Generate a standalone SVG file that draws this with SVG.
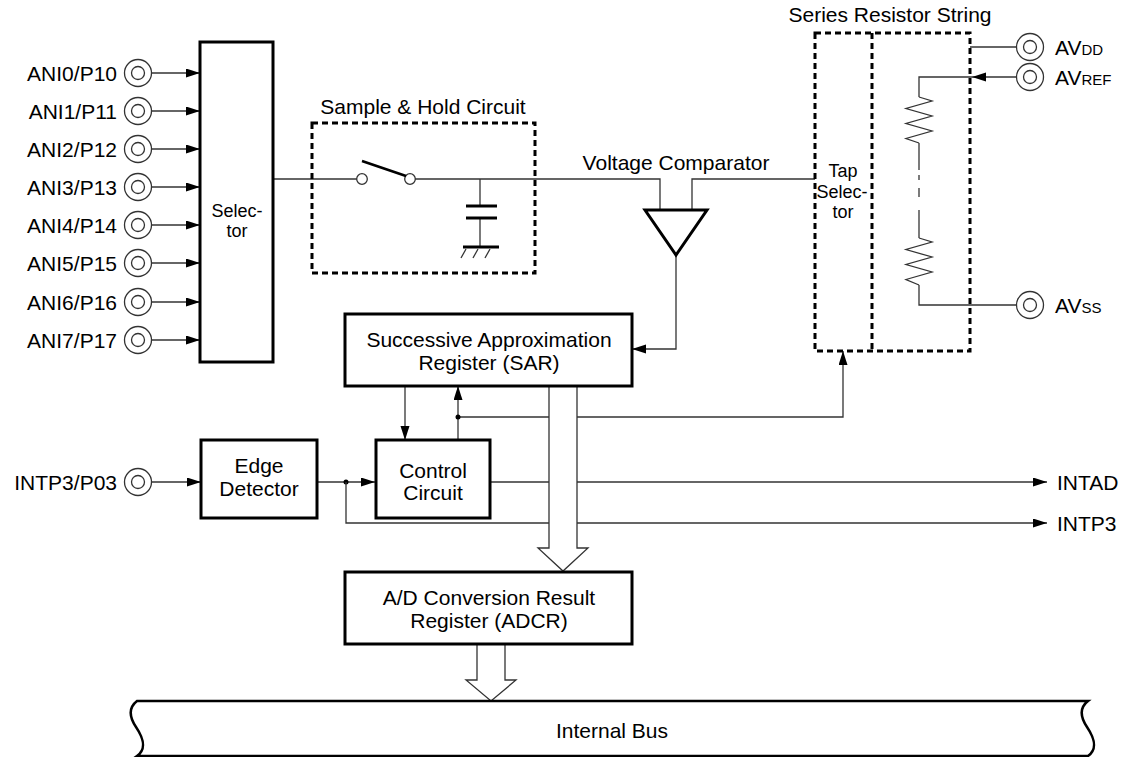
<svg xmlns="http://www.w3.org/2000/svg" width="1125" height="757" viewBox="0 0 1125 757">
<defs>
<style>
text{font-family:"Liberation Sans",Arial,sans-serif;fill:#000}
.t{font-size:21px}
.m{text-anchor:middle}
.e{text-anchor:end}
.s{font-size:18px}
.sub{font-size:15px}
.box{fill:#fff;stroke:#000;stroke-width:3}
.dash{fill:none;stroke:#000;stroke-width:3;stroke-dasharray:6 4}
.w{fill:none;stroke:#333;stroke-width:1.3}
.bw{fill:#fff;stroke:#333;stroke-width:1.3}
.pin{fill:#fff;stroke:#333;stroke-width:1.3}
.thick{fill:none;stroke:#000;stroke-width:3}
</style>
<marker id="ah" markerUnits="userSpaceOnUse" markerWidth="14" markerHeight="10" refX="14" refY="4.5" orient="auto">
<path d="M0,0 L14,4.5 L0,9 z" fill="#000"/>
</marker>
<g id="pinshape">
<circle r="13.5" class="pin"/>
<circle r="6.5" class="pin"/>
</g>
</defs>

<g id="connectors">
<!-- ANI inputs -->
<line class="w" x1="151.5" y1="73" x2="200" y2="73" marker-end="url(#ah)"/>
<line class="w" x1="151.5" y1="111" x2="200" y2="111" marker-end="url(#ah)"/>
<line class="w" x1="151.5" y1="149" x2="200" y2="149" marker-end="url(#ah)"/>
<line class="w" x1="151.5" y1="187" x2="200" y2="187" marker-end="url(#ah)"/>
<line class="w" x1="151.5" y1="225" x2="200" y2="225" marker-end="url(#ah)"/>
<line class="w" x1="151.5" y1="263" x2="200" y2="263" marker-end="url(#ah)"/>
<line class="w" x1="151.5" y1="302" x2="200" y2="302" marker-end="url(#ah)"/>
<line class="w" x1="151.5" y1="340" x2="200" y2="340" marker-end="url(#ah)"/>
<!-- selector to switch -->
<line class="w" x1="273" y1="179" x2="357" y2="179"/>
<!-- switch to comparator -->
<polyline class="w" points="415,179 660,179 660,210"/>
<!-- capacitor -->
<line class="w" x1="480" y1="179" x2="480" y2="206"/>
<line class="w" x1="480" y1="218" x2="480" y2="247"/>
<!-- comparator ref input from tap selector -->
<polyline class="w" points="692,210 692,179 815,179"/>
<!-- comparator output to SAR -->
<polyline class="w" points="676,255 676,349 632,349" marker-end="url(#ah)"/>
<!-- SAR to control -->
<line class="w" x1="405" y1="386" x2="405" y2="440" marker-end="url(#ah)"/>
<!-- control to SAR -->
<line class="w" x1="458" y1="440" x2="458" y2="386" marker-end="url(#ah)"/>
<!-- control to tap selector -->
<polyline class="w" points="458,417 843,417 843,351" marker-end="url(#ah)"/>
<circle cx="458" cy="417" r="2.5" fill="#000"/>
<!-- INTP3 pin to edge detector -->
<line class="w" x1="151.5" y1="482" x2="201" y2="482" marker-end="url(#ah)"/>
<!-- edge detector to control -->
<line class="w" x1="317" y1="482" x2="375" y2="482" marker-end="url(#ah)"/>
<circle cx="346" cy="482" r="2.5" fill="#000"/>
<!-- INTP3 output -->
<polyline class="w" points="346,482 346,523 1047,523" marker-end="url(#ah)"/>
<!-- INTAD output -->
<line class="w" x1="490" y1="482" x2="1047" y2="482" marker-end="url(#ah)"/>
<!-- AVDD -->
<line class="w" x1="970" y1="47" x2="1016.5" y2="47"/>
<!-- AVREF -->
<line class="w" x1="1016.5" y1="77" x2="972" y2="77" marker-end="url(#ah)"/>
<polyline class="w" points="972,77 919,77 919,97"/>
<!-- resistor string -->
<polyline class="w" points="919,97 932,101 906,108.5 932,116 906,123.5 932,131 906,138.5 919,143"/>
<line class="w" x1="919" y1="143" x2="919" y2="170"/>
<line class="w" x1="919" y1="175" x2="919" y2="180"/>
<line class="w" x1="919" y1="188" x2="919" y2="197"/>
<line class="w" x1="919" y1="210" x2="919" y2="238"/>
<polyline class="w" points="919,238 932,242 906,249.5 932,257 906,264.5 932,272 906,279.5 919,285"/>
<polyline class="w" points="919,285 919,305 1016.5,305"/>
<!-- SAR to ADCR data arrow -->
<polygon class="bw" points="549,386 549,548 538,548 563,571 588,548 577,548 577,386"/>
<!-- ADCR to bus data arrow -->
<polygon class="bw" points="477,644 477,680 466,680 491,701 516,680 505,680 505,644"/>
</g>

<g id="selector">
<rect class="box" x="200" y="42" width="73" height="320"/>
<text class="s m" x="237" y="217">Selec-</text>
<text class="s m" x="237" y="237">tor</text>
</g>

<g id="pins-ani">
<use href="#pinshape" x="138" y="73"/>
<use href="#pinshape" x="138" y="111"/>
<use href="#pinshape" x="138" y="149"/>
<use href="#pinshape" x="138" y="187"/>
<use href="#pinshape" x="138" y="225"/>
<use href="#pinshape" x="138" y="263"/>
<use href="#pinshape" x="138" y="302"/>
<use href="#pinshape" x="138" y="340"/>
<text class="t e" x="117" y="80.5">ANI0/P10</text>
<text class="t e" x="117" y="118.5">ANI1/P11</text>
<text class="t e" x="117" y="156.5">ANI2/P12</text>
<text class="t e" x="117" y="194.5">ANI3/P13</text>
<text class="t e" x="117" y="232.5">ANI4/P14</text>
<text class="t e" x="117" y="270.5">ANI5/P15</text>
<text class="t e" x="117" y="309.5">ANI6/P16</text>
<text class="t e" x="117" y="347.5">ANI7/P17</text>
</g>

<g id="sample-hold">
<text class="t m" x="423" y="114">Sample &amp; Hold Circuit</text>
<rect class="dash" x="312" y="123" width="223" height="150"/>
<circle cx="362" cy="179" r="5.3" class="pin"/>
<circle cx="410" cy="179" r="5.3" class="pin"/>
<line x1="362" y1="161" x2="406" y2="176" stroke="#000" stroke-width="2.6"/>
<line x1="466" y1="206" x2="497" y2="206" stroke="#000" stroke-width="3"/>
<line x1="466" y1="218" x2="497" y2="218" stroke="#000" stroke-width="3"/>
<line x1="463" y1="247" x2="499" y2="247" stroke="#000" stroke-width="3"/>
<line class="w" x1="461" y1="258" x2="466" y2="249"/>
<line class="w" x1="473" y1="258" x2="478" y2="249"/>
<line class="w" x1="485" y1="258" x2="490" y2="249"/>
</g>

<g id="comparator">
<text class="t m" x="676" y="170">Voltage Comparator</text>
<polygon points="645,210 707,210 676,255" fill="#fff" stroke="#000" stroke-width="3" stroke-linejoin="miter"/>
</g>

<g id="resistor-string">
<text class="t m" x="890" y="22">Series Resistor String</text>
<rect class="dash" x="815" y="33" width="155" height="318"/>
<line class="dash" x1="872" y1="33" x2="872" y2="351"/>
<text class="s m" x="843" y="177">Tap</text>
<text class="s m" x="842" y="198">Selec-</text>
<text class="s m" x="843" y="218">tor</text>
</g>

<g id="pins-av">
<use href="#pinshape" x="1030" y="47"/>
<use href="#pinshape" x="1030" y="77"/>
<use href="#pinshape" x="1030" y="305"/>
<text class="t" x="1055" y="54.5">AV<tspan class="sub">DD</tspan></text>
<text class="t" x="1055" y="84.5">AV<tspan class="sub">REF</tspan></text>
<text class="t" x="1055" y="312.5">AV<tspan class="sub">SS</tspan></text>
</g>

<g id="sar">
<rect class="box" x="345" y="314" width="287" height="72"/>
<text class="t m" x="489" y="347">Successive Approximation</text>
<text class="t m" x="489" y="370">Register (SAR)</text>
</g>

<g id="edge-detector">
<rect class="box" x="201" y="440" width="116" height="78"/>
<text class="t m" x="259" y="473">Edge</text>
<text class="t m" x="259" y="496">Detector</text>
</g>

<g id="control-circuit">
<rect class="box" x="376" y="440" width="114" height="78"/>
<text class="t m" x="433" y="478">Control</text>
<text class="t m" x="433" y="500">Circuit</text>
</g>

<g id="pin-intp3">
<use href="#pinshape" x="138" y="482"/>
<text class="t e" x="117" y="489.5">INTP3/P03</text>
</g>

<g id="outputs">
<text class="t" x="1057" y="489.5">INTAD</text>
<text class="t" x="1057" y="530.5">INTP3</text>
</g>

<g id="adcr">
<rect class="box" x="345" y="572" width="287" height="72"/>
<text class="t m" x="489" y="605">A/D Conversion Result</text>
<text class="t m" x="489" y="628">Register (ADCR)</text>
</g>

<g id="internal-bus">
<path d="M137,701 L1088,701 C1079,708 1081,718 1087,727 C1093,736 1099,748 1088,756 L137,756 C148,748 142,736 136,727 C130,718 128,708 137,701 Z" fill="#fff" stroke="#000" stroke-width="2.5"/>
<text class="t m" x="612" y="738">Internal Bus</text>
</g>
</svg>
